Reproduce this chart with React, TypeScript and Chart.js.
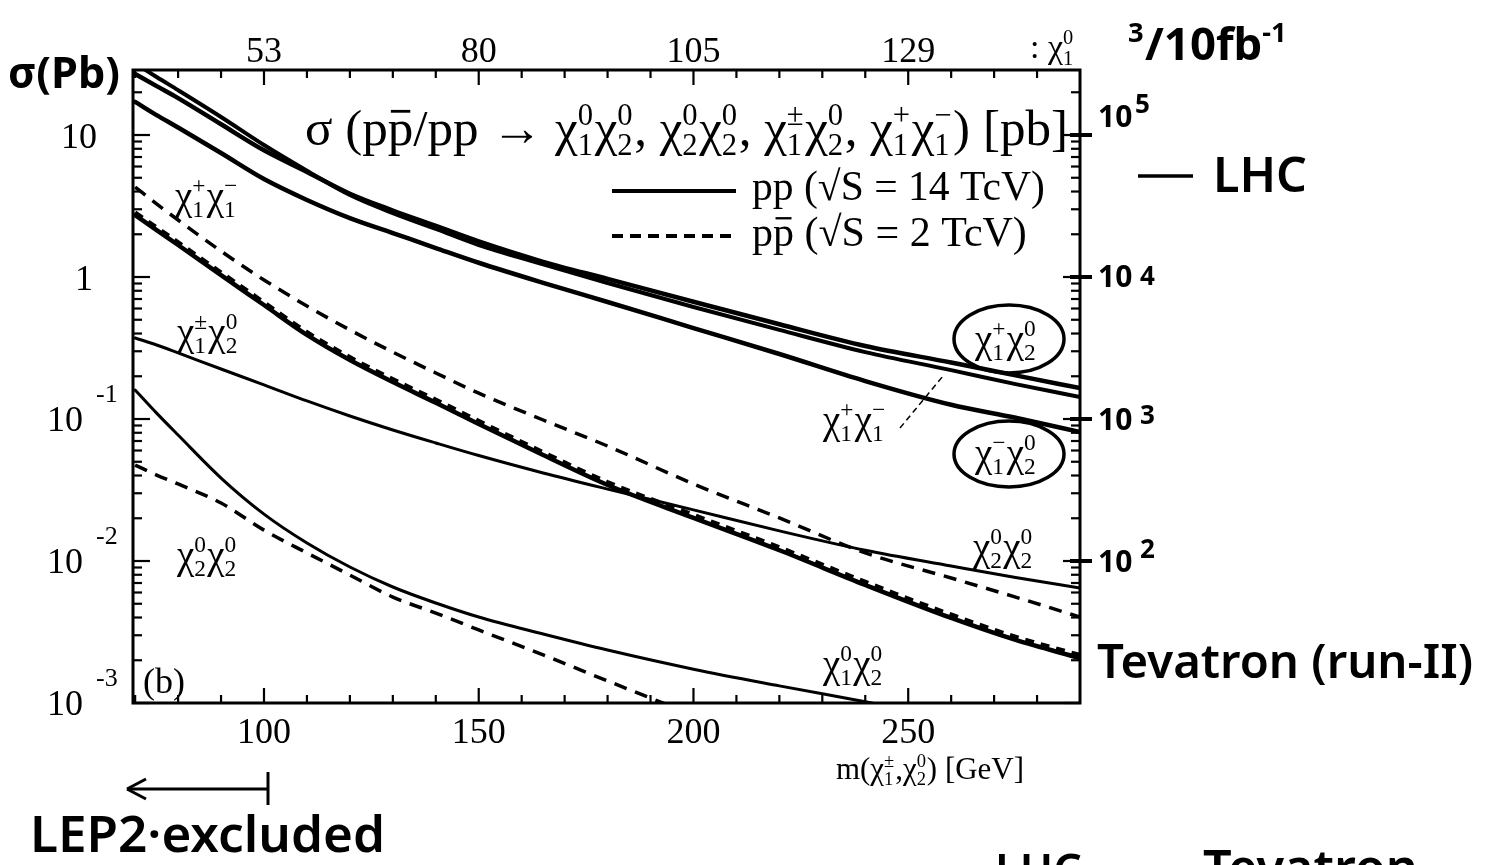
import React, { useEffect, useRef } from 'react';
import { Chart, registerables } from 'chart.js';

Chart.register(...registerables);

// ---------------- data ----------------
// chargino / neutralino-2 mass [GeV]
const masses = [70, 75, 80, 90, 100, 110, 120, 130, 140, 150, 165, 180, 200, 220, 240, 260, 275, 290];

// LHC pp (sqrt S = 14 TeV), solid, cross sections in pb
const lhcC1plusN2 = [26.9, 22.1, 18.2, 11.9, 7.8, 5.5, 3.86, 2.94, 2.29, 1.78, 1.28, 0.97, 0.67, 0.465, 0.327, 0.25, 0.203, 0.165];
const lhcC1C1 = [32, 25.6, 20.7, 13.4, 8.5, 5.6, 3.78, 2.82, 2.18, 1.68, 1.23, 0.908, 0.615, 0.424, 0.296, 0.221, 0.176, 0.143];
const lhcC1minusN2 = [17.1, 13.8, 11.3, 7.47, 4.9, 3.49, 2.6, 2.04, 1.6, 1.26, 0.91, 0.667, 0.437, 0.287, 0.185, 0.126, 0.102, 0.081];
const lhcN2N2 = [0.372, 0.332, 0.292, 0.225, 0.174, 0.134, 0.105, 0.0837, 0.0678, 0.0553, 0.0417, 0.0321, 0.0229, 0.0163, 0.0119, 0.00922, 0.00765, 0.00646];
const lhcN1N2 = [0.16, 0.11, 0.0771, 0.0384, 0.0214, 0.0134, 0.00907, 0.00656, 0.00506, 0.00403, 0.00306, 0.00236, 0.00173, 0.00132, 0.00102, 0.00078, null, null];
const solidC1N2 = [2.73, 2.14, 1.68, 1.03, 0.635, 0.391, 0.26, 0.182, 0.13, 0.0922, 0.0557, 0.0343, 0.0201, 0.0119, 0.00678, 0.00397, 0.00278, 0.00207];

// Tevatron p pbar (sqrt S = 2 TeV), dashed
const tevC1C1 = [4.3, 3.27, 2.52, 1.52, 0.953, 0.625, 0.424, 0.296, 0.211, 0.152, 0.0984, 0.0645, 0.0349, 0.0201, 0.0114, 0.00759, 0.00557, 0.00403];
const tevC1N2 = [2.85, 2.24, 1.76, 1.08, 0.665, 0.41, 0.273, 0.191, 0.137, 0.097, 0.0585, 0.036, 0.0212, 0.0125, 0.00715, 0.0042, 0.00293, 0.00218];
const tevN1N2 = [0.0474, 0.0403, 0.0349, 0.0256, 0.0165, 0.0114, 0.00796, 0.00557, 0.0043, 0.00327, 0.00218, 0.00143, 0.00082, null, null, null, null, null];

// axes
const X_MIN = 69.5;
const X_MAX = 290;
const Y_MIN = 0.001;
const Y_MAX = 28.7;
const xTickMasses = [70, 80, 90, 100, 110, 120, 130, 140, 150, 160, 170, 180, 190, 200, 210, 220, 230, 240, 250, 260, 270, 280];
const xLabelMasses = [100, 150, 200, 250];
const xBottomLabels = ['100', '150', '200', '250'];
const xTopLabels = ['53', '80', '105', '129']; // m(chi_1^0)
const yDecades = [0.001, 0.01, 0.1, 1, 10];
const yLabelValues = [10, 1, 0.1, 0.01, 0.001];
const yLabelBases = ['10', '1', '10', '10', '10'];
const yLabelExps = ['', '', '-1', '-2', '-3'];
// events for 10 fb^-1 (= 10^4 pb^-1)
const LUMI_INV_PB = 10000;
const eventCounts = [100000, 10000, 1000, 100];
const eventExps = ['5', '4', '3', '2'];

// ---------------- drawing helpers ----------------
const SERIF = '"Liberation Serif", "Times New Roman", serif';
const HAND = '"Noto Sans", "DejaVu Sans", sans-serif';

type Seg = { t: string; sub?: string; sup?: string; bar?: boolean };
const chi = (sub: string, sup: string): Seg => ({ t: 'χ', sub, sup });

const titleSegs: Seg[] = [
  { t: 'σ (p' }, { t: 'p', bar: true }, { t: '/pp → ' },
  chi('1', '0'), chi('2', '0'), { t: ', ' },
  chi('2', '0'), chi('2', '0'), { t: ', ' },
  chi('1', '±'), chi('2', '0'), { t: ', ' },
  chi('1', '+'), chi('1', '−'), { t: ') [pb]' },
];
const legendSolidSegs: Seg[] = [{ t: 'pp (√S = 14 TcV)' }];
const legendDashSegs: Seg[] = [{ t: 'p' }, { t: 'p', bar: true }, { t: ' (√S = 2 TcV)' }];
const xAxisTitleSegs: Seg[] = [{ t: 'm(' }, chi('1', '±'), { t: ',' }, chi('2', '0'), { t: ') [GeV]' }];
const topAxisTitleSegs: Seg[] = [{ t: ': ' }, chi('1', '0')];
const lumiSegs: Seg[] = [{ t: '', sup: '3' }, { t: '/10fb', sup: '-1' }];

function fontStr(weight: string, size: number, fam: string) {
  return `${weight} ${size}px ${fam}`;
}

function richWidth(ctx: CanvasRenderingContext2D, segs: Seg[], size: number, fam: string, weight = 'normal') {
  let w = 0;
  for (const s of segs) {
    ctx.font = fontStr(weight, size, fam);
    w += ctx.measureText(s.t).width;
    if (s.sub || s.sup) {
      ctx.font = fontStr(weight, size * 0.6, fam);
      w += Math.max(s.sub ? ctx.measureText(s.sub).width : 0, s.sup ? ctx.measureText(s.sup).width : 0) + size * 0.03;
    }
  }
  return w;
}

function drawRich(ctx: CanvasRenderingContext2D, segs: Seg[], x: number, y: number, size: number, fam: string, weight = 'normal') {
  ctx.textAlign = 'left';
  ctx.textBaseline = 'alphabetic';
  for (const s of segs) {
    ctx.font = fontStr(weight, size, fam);
    const w = ctx.measureText(s.t).width;
    if (s.t) ctx.fillText(s.t, x, y);
    if (s.bar) {
      ctx.lineWidth = Math.max(1.5, size * 0.055);
      ctx.beginPath();
      ctx.moveTo(x + w * 0.12, y - size * 0.66);
      ctx.lineTo(x + w * 0.88, y - size * 0.66);
      ctx.stroke();
    }
    x += w;
    if (s.sub || s.sup) {
      ctx.font = fontStr(weight, size * 0.6, fam);
      let sw = 0;
      if (s.sup) {
        ctx.fillText(s.sup, x, y - size * 0.4);
        sw = Math.max(sw, ctx.measureText(s.sup).width);
      }
      if (s.sub) {
        ctx.fillText(s.sub, x, y + size * 0.2);
        sw = Math.max(sw, ctx.measureText(s.sub).width);
      }
      x += sw + size * 0.03;
    }
  }
}

function drawRichFit(ctx: CanvasRenderingContext2D, segs: Seg[], x0: number, x1: number, y: number, fam: string, weight = 'normal') {
  const base = 40;
  const w = richWidth(ctx, segs, base, fam, weight);
  const size = (base * (x1 - x0)) / w;
  drawRich(ctx, segs, x0, y, size, fam, weight);
}

function seg(ctx: CanvasRenderingContext2D, x1: number, y1: number, x2: number, y2: number) {
  ctx.beginPath();
  ctx.moveTo(x1, y1);
  ctx.lineTo(x2, y2);
  ctx.stroke();
}

const decor = {
  id: 'decor',
  afterDraw(chart: any) {
    const { ctx, chartArea: ca, scales } = chart;
    const xs = scales.x;
    const ys = scales.y;
    ctx.save();
    ctx.strokeStyle = '#000';
    ctx.fillStyle = '#000';
    ctx.lineCap = 'butt';

    // frame
    ctx.lineWidth = 3;
    ctx.strokeRect(ca.left, ca.top, ca.right - ca.left, ca.bottom - ca.top);

    // x ticks (inward, bottom and top)
    ctx.lineWidth = 2.2;
    for (const m of xTickMasses) {
      const px = xs.getPixelForValue(m);
      const len = xLabelMasses.includes(m) ? 15 : 8;
      seg(ctx, px, ca.bottom, px, ca.bottom - len);
      seg(ctx, px, ca.top, px, ca.top + len);
    }
    // y ticks (inward, left and right)
    for (const d of yDecades) {
      for (let k = 1; k <= 9; k++) {
        const v = d * k;
        if (v > Y_MAX) continue;
        const py = ys.getPixelForValue(v);
        const len = k === 1 ? 17 : 9;
        seg(ctx, ca.left, py, ca.left + len, py);
        seg(ctx, ca.right, py, ca.right - len, py);
      }
    }

    // x tick labels (bottom: chargino mass, top: neutralino-1 mass)
    ctx.font = fontStr('normal', 36, SERIF);
    ctx.textAlign = 'center';
    ctx.textBaseline = 'alphabetic';
    xLabelMasses.forEach((m, i) => {
      const px = xs.getPixelForValue(m);
      ctx.fillText(xBottomLabels[i], px, 743);
      ctx.fillText(xTopLabels[i], px, 62);
    });
    drawRichFit(ctx, xAxisTitleSegs, 836, 1024, 779, SERIF);
    drawRich(ctx, topAxisTitleSegs, 1030, 58, 34, SERIF);

    // left y labels
    yLabelValues.forEach((v, i) => {
      const py = ys.getPixelForValue(v);
      ctx.font = fontStr('normal', 36, SERIF);
      ctx.textBaseline = 'alphabetic';
      if (yLabelExps[i]) {
        ctx.textAlign = 'right';
        ctx.fillText(yLabelBases[i], 83, py + 12);
        ctx.textAlign = 'left';
        ctx.font = fontStr('normal', 26, SERIF);
        ctx.fillText(yLabelExps[i], 96, py - 17);
      } else {
        ctx.textAlign = 'right';
        ctx.fillText(yLabelBases[i], yLabelBases[i].length > 1 ? 97 : 93, py + 13);
      }
    });

    // title & legend
    drawRichFit(ctx, titleSegs, 305, 1068, 145, SERIF);
    ctx.lineWidth = 4;
    seg(ctx, 612, 191, 736, 191);
    ctx.setLineDash([11, 7]);
    seg(ctx, 612, 236, 736, 236);
    ctx.setLineDash([]);
    drawRichFit(ctx, legendSolidSegs, 752, 1045, 200, SERIF);
    drawRichFit(ctx, legendDashSegs, 752, 1027, 246, SERIF);

    // curve labels
    const L = 39;
    drawRich(ctx, [chi('1', '+'), chi('1', '−')], 175, 209, L, SERIF);
    drawRich(ctx, [chi('1', '±'), chi('2', '0')], 177, 345, L, SERIF);
    drawRich(ctx, [chi('2', '0'), chi('2', '0')], 177, 568, L, SERIF);
    drawRich(ctx, [{ t: '(b)' }], 143, 693, 36, SERIF);
    drawRich(ctx, [chi('1', '+'), chi('1', '−')], 823, 433, L, SERIF);
    drawRich(ctx, [chi('2', '0'), chi('2', '0')], 973, 560, L, SERIF);
    drawRich(ctx, [chi('1', '0'), chi('2', '0')], 823, 677, L, SERIF);
    drawRich(ctx, [chi('1', '+'), chi('2', '0')], 975, 352, L, SERIF);
    drawRich(ctx, [chi('1', '−'), chi('2', '0')], 975, 466, L, SERIF);
    // leader line
    ctx.lineWidth = 1.5;
    ctx.setLineDash([6, 4]);
    seg(ctx, 900, 428, 943, 376);
    ctx.setLineDash([]);

    // ---- hand-written annotations ----
    ctx.lineWidth = 3.5;
    ctx.beginPath();
    ctx.ellipse(1009, 339, 55, 34, 0, 0, Math.PI * 2);
    ctx.stroke();
    ctx.beginPath();
    ctx.ellipse(1009, 454, 55, 33, 0, 0, Math.PI * 2);
    ctx.stroke();

    drawRichFit(ctx, [{ t: 'σ(Pb)' }], 8, 120, 88, HAND, 'bold');
    drawRichFit(ctx, lumiSegs, 1128, 1288, 60, HAND, 'bold');
    ctx.lineWidth = 3.5;
    seg(ctx, 1138, 176, 1193, 176);
    drawRichFit(ctx, [{ t: 'LHC' }], 1213, 1307, 192, HAND, '600');

    // right axis: events for 10 fb^-1
    const dy = [-8, 10, 11, 11];
    const ex = [[1135, -14], [1140, -2], [1140, -6], [1140, -14]];
    eventCounts.forEach((n, i) => {
      const py = ys.getPixelForValue(n / LUMI_INV_PB);
      ctx.lineWidth = 4;
      seg(ctx, ca.right - 10, py, ca.right + 12, py);
      ctx.font = fontStr('bold', 30, HAND);
      ctx.textAlign = 'left';
      ctx.textBaseline = 'alphabetic';
      ctx.fillText('10', 1098, py + dy[i]);
      ctx.font = fontStr('bold', 26, HAND);
      ctx.fillText(eventExps[i], ex[i][0], py + dy[i] + ex[i][1]);
    });

    drawRichFit(ctx, [{ t: 'Tevatron (run-II)' }], 1097, 1473, 678, HAND, '600');

    // LEP exclusion arrow
    ctx.lineWidth = 3;
    seg(ctx, 127, 789, 268, 789);
    seg(ctx, 268, 772, 268, 805);
    seg(ctx, 127, 789, 146, 779);
    seg(ctx, 127, 789, 146, 799);
    drawRichFit(ctx, [{ t: 'LEP2·excluded' }], 30, 385, 852, HAND, '600');

    // partially visible text at the bottom edge
    drawRichFit(ctx, [{ t: 'LHC' }], 995, 1082, 886, HAND, '600');
    drawRichFit(ctx, [{ t: 'Tevatron' }], 1203, 1418, 886, HAND, '600');

    ctx.restore();
  },
};

export default function App() {
  const ref = useRef<HTMLCanvasElement>(null);
  useEffect(() => {
    const canvas = ref.current;
    if (!canvas) return;
    const mk = (vals: (number | null)[]) =>
      masses.map((m, i) => ({ x: m, y: vals[i] })).filter((p) => p.y !== null);
    const line = (label: string, vals: (number | null)[], width: number, dash: number[] = []) => ({
      label,
      data: mk(vals),
      borderColor: '#000',
      backgroundColor: '#000',
      borderWidth: width,
      borderDash: dash,
      borderCapStyle: dash.length ? 'butt' : 'round',
      pointRadius: 0,
      fill: false,
      cubicInterpolationMode: 'monotone',
    });
    const chart = new Chart(canvas, {
      type: 'line',
      data: {
        datasets: [
          line('LHC χ1+χ2⁰', lhcC1plusN2, 4.5),
          line('LHC χ1+χ1−', lhcC1C1, 4),
          line('LHC χ1−χ2⁰', lhcC1minusN2, 4.5),
          line('LHC χ2⁰χ2⁰', lhcN2N2, 3),
          line('LHC χ1⁰χ2⁰', lhcN1N2, 3),
          line('χ1±χ2⁰ (solid)', solidC1N2, 4.5),
          line('Tevatron χ1±χ2⁰', tevC1N2, 4, [9, 7]),
          line('Tevatron χ1+χ1−', tevC1C1, 3.5, [13, 9]),
          line('Tevatron χ1⁰χ2⁰', tevN1N2, 3.5, [13, 9]),
        ] as any,
      },
      options: {
        animation: false,
        responsive: true,
        maintainAspectRatio: false,
        layout: { padding: { left: 133, right: 411, top: 70, bottom: 162 } },
        scales: {
          x: { type: 'linear', min: X_MIN, max: X_MAX, display: false },
          y: { type: 'logarithmic', min: Y_MIN, max: Y_MAX, display: false },
        },
        plugins: {
          legend: { display: false },
          tooltip: { enabled: false },
          title: { display: false },
        },
      },
      plugins: [decor],
    });
    return () => chart.destroy();
  }, []);
  return (
    <div style={{ position: 'fixed', left: 0, top: 0, width: 1491, height: 865, background: '#fff' }}>
      <canvas ref={ref} />
    </div>
  );
}
